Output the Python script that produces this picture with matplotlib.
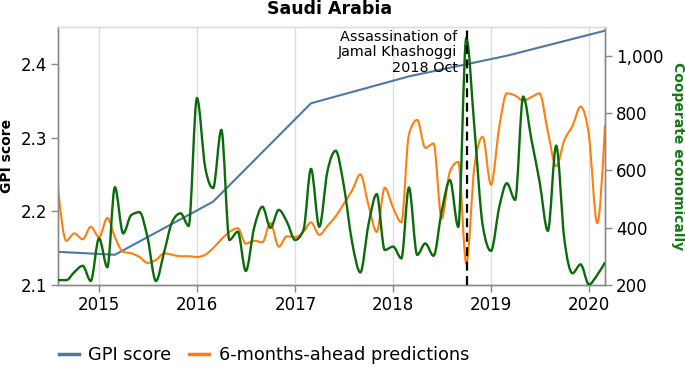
import numpy as np
import pandas as pd
import matplotlib
matplotlib.use("Agg")
import matplotlib.pyplot as plt
import matplotlib.dates as mdates
from matplotlib.path import Path
from matplotlib.patches import PathPatch
from matplotlib.lines import Line2D
from matplotlib.ticker import FuncFormatter

# ---------------- data ----------------
months = pd.date_range("2014-07-31", periods=68, freq="ME")

cooperate_economically = [217, 217, 245, 267, 214, 363, 262, 541, 380, 444,
                          454, 364, 214, 316, 421, 450, 406, 852, 608, 538,
                          741, 357, 386, 249, 399, 473, 400, 462, 421, 357,
                          392, 605, 403, 595, 668, 549, 351, 244, 409, 517,
                          322, 334, 293, 540, 305, 345, 302, 456, 566, 403,
                          1061, 740, 409, 319, 473, 555, 497, 857, 706, 561,
                          389, 686, 363, 241, 272, 202, 235, 279]

predictions = [2.231, 2.160, 2.170, 2.162, 2.179, 2.165, 2.191, 2.165, 2.145, 2.143,
               2.138, 2.130, 2.134, 2.143, 2.141, 2.139, 2.139, 2.138, 2.141, 2.150,
               2.162, 2.172, 2.177, 2.156, 2.160, 2.158, 2.184, 2.152, 2.166, 2.165,
               2.172, 2.185, 2.168, 2.180, 2.193, 2.210, 2.228, 2.250, 2.209, 2.172,
               2.232, 2.205, 2.185, 2.304, 2.324, 2.286, 2.292, 2.190, 2.254, 2.267,
               2.129, 2.263, 2.301, 2.236, 2.315, 2.360, 2.357, 2.350, 2.355, 2.360,
               2.308, 2.261, 2.296, 2.316, 2.342, 2.303, 2.184, 2.317]

gpi_dates = ["2014-07-31", "2015-02-28", "2016-02-29", "2017-02-28",
             "2018-02-28", "2019-02-28", "2020-02-29"]
gpi_score = [2.145, 2.141, 2.213, 2.3465, 2.383, 2.411, 2.445]

event_date = "2018-10-01"
event_label = "Assassination of\nJamal Khashoggi\n2018 Oct"
title = "Saudi Arabia"

BLUE = "#4c78a8"
ORANGE = "#ff7f0e"
GREEN = "#0b6b0b"
GREEN_LABEL = "#137a13"


def monotone_path(x, y):
    """Smooth monotone cubic (d3 curveMonotoneX style) through the points."""
    x = np.asarray(x, float)
    y = np.asarray(y, float)
    n = len(x)
    h = np.diff(x)
    s = np.diff(y) / h
    t = np.zeros(n)
    for i in range(1, n - 1):
        h0, h1, s0, s1 = h[i - 1], h[i], s[i - 1], s[i]
        p = (s0 * h1 + s1 * h0) / (h0 + h1)
        t[i] = (np.sign(s0) + np.sign(s1)) * min(abs(s0), abs(s1), 0.5 * abs(p))
    t[0] = (3 * s[0] - t[1]) / 2
    t[-1] = (3 * s[-1] - t[-2]) / 2
    verts = [(x[0], y[0])]
    codes = [Path.MOVETO]
    for i in range(n - 1):
        d = h[i] / 3
        verts += [(x[i] + d, y[i] + d * t[i]),
                  (x[i + 1] - d, y[i + 1] - d * t[i + 1]),
                  (x[i + 1], y[i + 1])]
        codes += [Path.CURVE4] * 3
    return Path(verts, codes)


xm = mdates.date2num(months.to_pydatetime())
xg = mdates.date2num(pd.to_datetime(gpi_dates).to_pydatetime())
xe = mdates.date2num(pd.Timestamp(event_date).to_pydatetime())

W, H = 685, 367
fig = plt.figure(figsize=(W / 100, H / 100), dpi=100)
L, R, T, B = 58, 605, 27, 285
ax = fig.add_axes([L / W, 1 - B / H, (R - L) / W, (B - T) / H])
ax2 = ax.twinx()

# left axis series
ax.plot(xg, gpi_score, color=BLUE, lw=1.5, zorder=3)
ax.add_patch(PathPatch(monotone_path(xm, predictions), fill=False,
                       edgecolor=ORANGE, lw=1.5, zorder=3))
# right axis series
ax2.add_patch(PathPatch(monotone_path(xm, cooperate_economically), fill=False,
                        edgecolor=GREEN, lw=1.7, zorder=3))
ax2.axvline(xe, color="black", lw=1.6, ls=(0, (4, 2.5)), zorder=4)

ax.set_xlim(xm[0], xm[-1])
ax.set_ylim(2.1, 2.45)
ax2.set_ylim(200, 1100)

ax.xaxis.set_major_locator(mdates.YearLocator())
ax.xaxis.set_major_formatter(mdates.DateFormatter("%Y"))
ax.set_yticks([2.1, 2.2, 2.3, 2.4])
ax.yaxis.set_major_formatter(FuncFormatter(lambda v, p: f"{v:.1f}"))
ax2.set_yticks([200, 400, 600, 800, 1000])
ax2.yaxis.set_major_formatter(FuncFormatter(lambda v, p: f"{int(v):,}"))

ax.grid(axis="x", color="#dddddd", lw=1)
ax.set_axisbelow(True)

for a in (ax, ax2):
    a.tick_params(axis="both", labelsize=12, length=5, width=1, color="#888888",
                  pad=3, labelcolor="black")
    for side in ("left", "right", "bottom"):
        a.spines[side].set_color("#888888")
        a.spines[side].set_linewidth(1)
    a.spines["top"].set_color("#dddddd")
    a.spines["top"].set_linewidth(1)

ax.annotate(event_label, xy=(xe, 1), xycoords=("data", "axes fraction"),
            xytext=(-6.5, -2), textcoords="offset points", ha="right", va="top",
            fontsize=10.4, linespacing=1.15, zorder=5)

fig.text(330 / W, 1 - 13.5 / H, title, ha="center", va="baseline",
         fontsize=12.5, fontweight="bold")
fig.text(7 / W, 1 - 156 / H, "GPI score", rotation=90, ha="center", va="center",
         fontsize=10, fontweight="bold")
fig.text(678 / W, 1 - 156 / H, "Cooperate economically", rotation=270,
         ha="center", va="center", fontsize=10, fontweight="bold",
         color=GREEN_LABEL)

handles = [Line2D([], [], color=BLUE, lw=2.5), Line2D([], [], color=ORANGE, lw=2.5)]
fig.legend(handles, ["GPI score", "6-months-ahead predictions"],
           loc="center left", bbox_to_anchor=(59 / W, 1 - 355 / H), ncol=2,
           frameon=False, fontsize=12.8, handlelength=1.1, handletextpad=0.55,
           columnspacing=1.0, borderaxespad=0, borderpad=0)

fig.savefig("out.png", dpi=100)
